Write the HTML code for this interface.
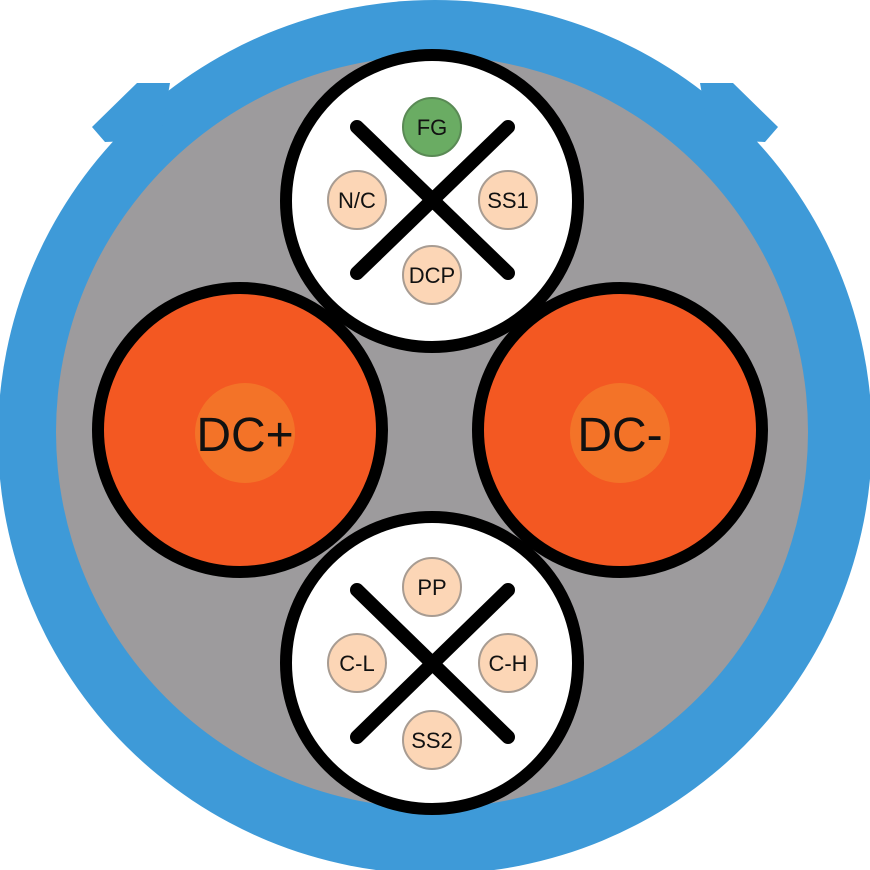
<!DOCTYPE html>
<html><head><style>html,body{margin:0;padding:0;background:#fff}svg{display:block}</style></head><body>
<svg width="870" height="870" viewBox="0 0 870 870" xmlns="http://www.w3.org/2000/svg" font-family="Liberation Sans, sans-serif">
<circle cx="435" cy="437" r="437" fill="#3e9ad8"/>
<polygon points="137,83 170,83 160,140 105,142 92,127" fill="#3e9ad8"/>
<polygon points="733,83 700,83 710,140 765,142 778,127" fill="#3e9ad8"/>
<circle cx="432" cy="432" r="376" fill="#9d9b9d"/>
<g stroke="#000" stroke-width="12">
<circle cx="240" cy="430" r="142" fill="#f35822"/>
<circle cx="620" cy="430" r="142" fill="#f35822"/>
<circle cx="432" cy="201" r="146" fill="#fff"/>
<circle cx="432" cy="663" r="146" fill="#fff"/>
</g>
<circle cx="245" cy="433" r="50" fill="#f37328"/>
<circle cx="620" cy="433" r="50" fill="#f37328"/>
<text x="245" y="451" font-size="48" text-anchor="middle" fill="#111">DC+</text>
<text x="620" y="451" font-size="48" text-anchor="middle" fill="#111">DC-</text>
<g stroke="#000" stroke-width="14" stroke-linecap="round">
<line x1="357" y1="127" x2="508" y2="273"/><line x1="508" y1="127" x2="357" y2="273"/>
<line x1="357" y1="590" x2="508" y2="737"/><line x1="508" y1="590" x2="357" y2="737"/>
</g>
<g stroke="#a89c92" stroke-width="2" fill="#fcd6b6">
<circle cx="432" cy="127" r="29" fill="#6aac63" stroke="#5a8a55"/>
<circle cx="357" cy="200" r="29"/><circle cx="508" cy="200" r="29"/><circle cx="432" cy="275" r="29"/>
<circle cx="432" cy="587" r="29"/><circle cx="357" cy="663" r="29"/><circle cx="508" cy="663" r="29"/><circle cx="432" cy="740" r="29"/>
</g>
<g font-size="22" text-anchor="middle" fill="#111">
<text x="432" y="135">FG</text><text x="357" y="208">N/C</text><text x="508" y="208">SS1</text><text x="432" y="283">DCP</text>
<text x="432" y="595">PP</text><text x="357" y="671">C-L</text><text x="508" y="671">C-H</text><text x="432" y="748">SS2</text>
</g>
</svg>
</body></html>
